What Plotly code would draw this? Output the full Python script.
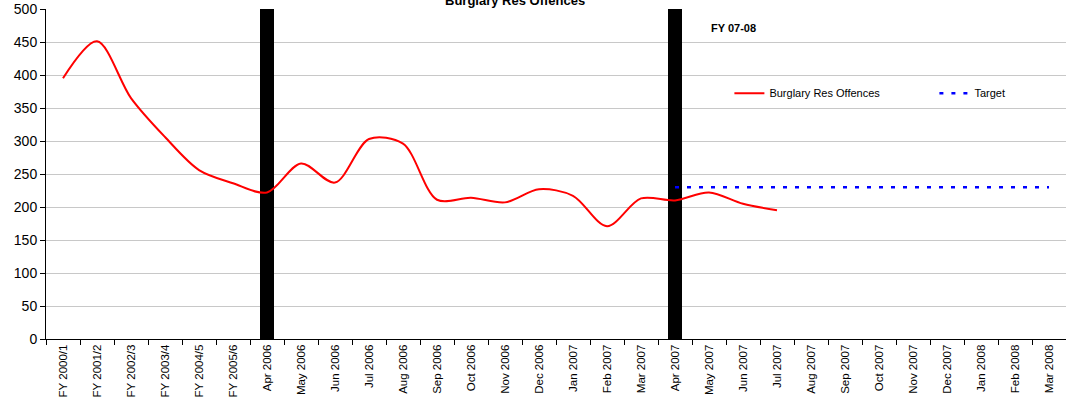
import plotly.graph_objects as go

categories = ["FY 2000/1", "FY 2001/2", "FY 2002/3", "FY 2003/4", "FY 2004/5", "FY 2005/6",
              "Apr 2006", "May 2006", "Jun 2006", "Jul 2006", "Aug 2006", "Sep 2006",
              "Oct 2006", "Nov 2006", "Dec 2006", "Jan 2007", "Feb 2007", "Mar 2007",
              "Apr 2007", "May 2007", "Jun 2007", "Jul 2007", "Aug 2007", "Sep 2007",
              "Oct 2007", "Nov 2007", "Dec 2007", "Jan 2008", "Feb 2008", "Mar 2008"]

offences = [395, 451, 365, 306, 256, 236,
            222, 266, 237, 303, 296, 211,
            214, 207, 227, 217, 171, 213,
            210, 222, 205, 195, None, None,
            None, None, None, None, None, None]

target = [None] * 18 + [230] * 12

divider = [None] * 30
divider[6] = 500
divider[18] = 500

FONT = "Liberation Sans, Arial, sans-serif"

fig = go.Figure()
fig.add_trace(go.Bar(x=categories, y=divider, width=0.44, marker=dict(color="black", line=dict(width=0)),
                     showlegend=False, hoverinfo="skip"))
fig.add_trace(go.Scatter(x=categories, y=offences, mode="lines", name="Burglary Res Offences",
                         line=dict(color="#ff0000", width=2, shape="spline", smoothing=0.9)))
fig.add_trace(go.Scatter(x=categories, y=target, mode="lines", name="Target",
                         line=dict(color="#0000ff", width=2.5, dash="4px,8px")))

fig.update_layout(
    width=1066, height=405,
    margin=dict(l=46, r=0, t=9, b=66, autoexpand=False),
    paper_bgcolor="white", plot_bgcolor="white",
    font=dict(family=FONT, color="black"),
    showlegend=True,
    legend=dict(orientation="h", x=0.67, y=0.745, xanchor="left", yanchor="middle",
                font=dict(size=11, family=FONT), bgcolor="rgba(0,0,0,0)",
                entrywidth=160, entrywidthmode="pixels", traceorder="normal"),
    bargap=0,
)
fig.update_xaxes(type="category", range=[-0.5, 29.5], tickangle=-90, tickfont=dict(size=11.5),
                 showgrid=False, showline=True, linecolor="black", linewidth=1, automargin=False,
                 ticks="outside", ticklen=5, tickcolor="black", tickson="boundaries")
fig.update_yaxes(range=[0, 500], dtick=50, tickfont=dict(size=14), showgrid=True, automargin=False,
                 gridcolor="#c8c8c8", gridwidth=1, showline=True, linecolor="black", linewidth=1,
                 ticks="outside", ticklen=5, tickcolor="black", zeroline=False)

fig.add_annotation(text="<b>Burglary Res Offences</b>", xref="paper", yref="paper",
                   x=0.46, y=1.026, xanchor="center", yanchor="middle", showarrow=False,
                   font=dict(size=13, family=FONT))
fig.add_annotation(text="<b>FY 07-08</b>", xref="paper", yref="paper",
                   x=0.6745, y=0.942, xanchor="center", yanchor="middle", showarrow=False,
                   font=dict(size=11, family=FONT))

fig.write_html("out.html", config={"displayModeBar": False},
               post_script="document.body.style.margin='0';")
